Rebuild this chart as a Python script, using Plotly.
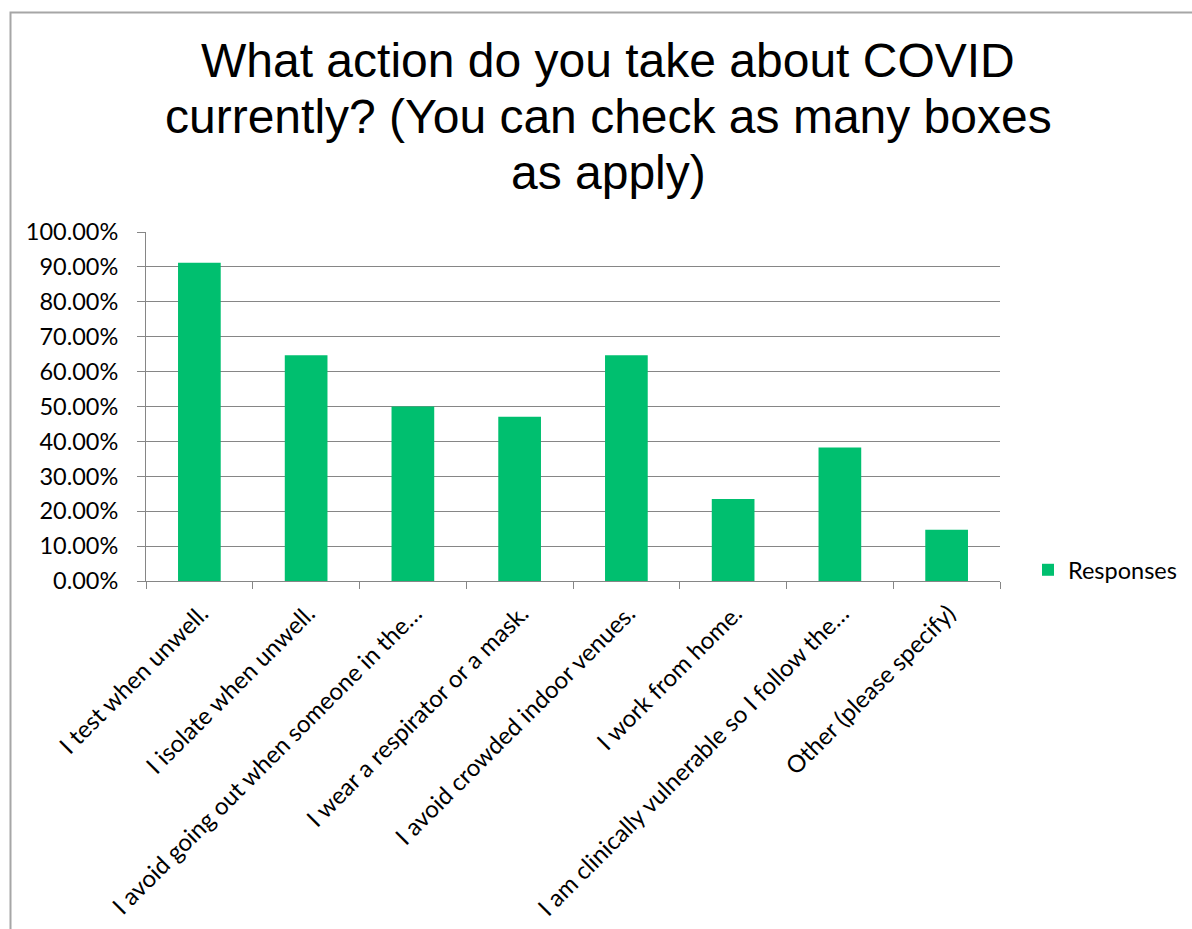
import plotly.graph_objects as go

categories = [
    "I test when unwell.",
    "I isolate when unwell.",
    "I avoid going out when someone in the…",
    "I wear a respirator or a mask.",
    "I avoid crowded indoor venues.",
    "I work from home.",
    "I am clinically vulnerable so I follow the…",
    "Other (please specify)",
]
responses = [0.9118, 0.6471, 0.5000, 0.4706, 0.6471, 0.2353, 0.3824, 0.1471]
y_ticks = [0, 0.1, 0.2, 0.3, 0.4, 0.5, 0.6, 0.7, 0.8, 0.9, 1.0]
y_tick_labels = ["0.00%", "10.00%", "20.00%", "30.00%", "40.00%", "50.00%",
                 "60.00%", "70.00%", "80.00%", "90.00%", "100.00%"]
title_lines = ["What action do you take about COVID",
               "currently? (You can check as many boxes",
               "as apply)"]

W, H = 1192, 929
L, R, T, B = 146, 1000, 232, 581

fig = go.Figure()
fig.add_trace(go.Bar(
    x=categories, y=responses, name="Responses",
    marker=dict(color="#00BF6F", line=dict(width=0)),
    showlegend=True,
))

grid = "#868686"
ytick_font = dict(family="Lato, Calibri, Carlito, sans-serif", size=23.5, color="#000000")
xtick_font = dict(family="Lato, Calibri, Carlito, sans-serif", size=24, color="#000000")

fig.update_layout(
    width=W, height=H,
    margin=dict(l=L, r=W - R, t=T, b=H - B, pad=0, autoexpand=False),
    paper_bgcolor="white", plot_bgcolor="white",
    bargap=0.6,
    showlegend=True,
    legend=dict(xref="container", yref="container",
                x=1028 / W, y=1 - 570 / H, xanchor="left", yanchor="middle",
                font=dict(family="Lato, Calibri, sans-serif", size=23.5, color="#000"),
                bgcolor="rgba(0,0,0,0)", itemwidth=30),
    xaxis=dict(
        type="category", tickangle=-45, tickfont=xtick_font,
        showline=True, linecolor=grid, linewidth=1,
        ticks="outside", ticklen=7, tickcolor=grid, tickson="boundaries",
        showgrid=False, automargin=False,
        ticklabelstandoff=8, ticklabelshift=2,
    ),
    yaxis=dict(
        range=[0, 1.0], tickvals=y_ticks, ticktext=y_tick_labels,
        tickfont=ytick_font,
        showline=True, linecolor=grid, linewidth=1,
        ticks="outside", ticklen=8, tickcolor=grid,
        showgrid=True, gridcolor=grid, gridwidth=1,
        zeroline=False, automargin=False, ticklabelstandoff=14,
    ),
)

# Title as separate centred lines (tight line spacing as in reference)
line_centers = [60, 116, 173]
for txt, yc in zip(title_lines, line_centers):
    fig.add_annotation(
        text=txt, xref="paper", yref="paper",
        x=(608 - L) / (R - L), y=(B - yc) / (B - T),
        xanchor="center", yanchor="middle", showarrow=False,
        font=dict(family="Liberation Sans, Arial, sans-serif", size=48, color="#000"),
    )

# Outer chart border
fig.add_shape(type="rect", xref="paper", yref="paper",
              x0=(10.5 - L) / (R - L), x1=(1200 - L) / (R - L),
              y0=(B - 940) / (B - T), y1=(B - 12.5) / (B - T),
              line=dict(color="#A6A6A6", width=2), fillcolor="rgba(0,0,0,0)", layer="below")

fig.write_html("out.html")
